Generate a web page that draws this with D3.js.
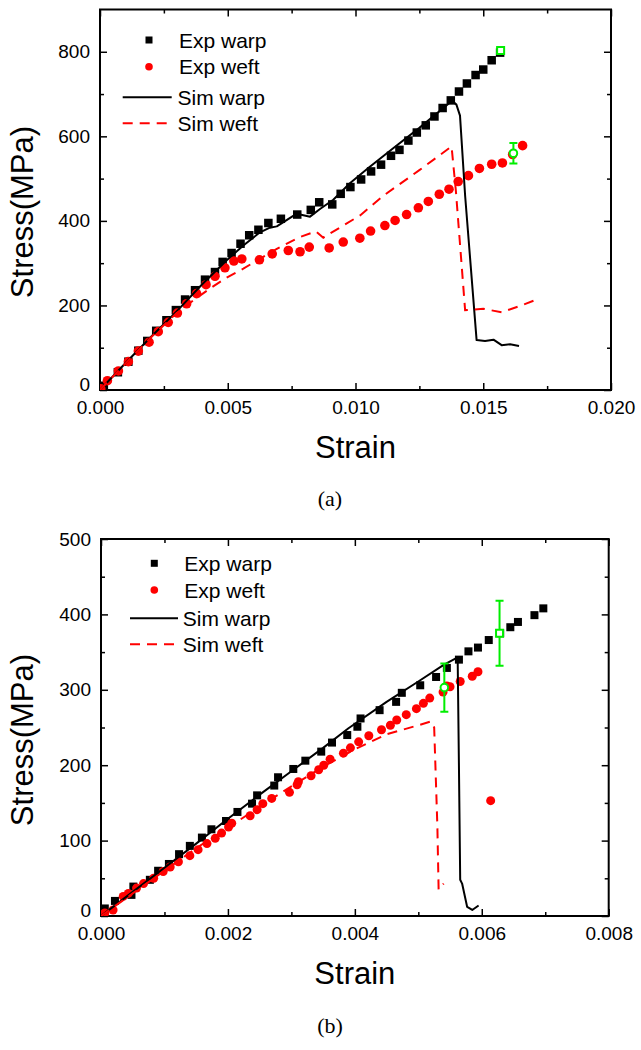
<!DOCTYPE html>
<html><head><meta charset="utf-8">
<script src="https://cdn.jsdelivr.net/npm/d3@7"></script>
<style>body{margin:0;background:#fff}svg{display:block}</style>
</head><body>
<script>
// ---------- DATA ----------
const legendLabels = ["Exp warp", "Exp weft", "Sim warp", "Sim weft"];

// Chart (a)
const aExpWarp = [[0.00015,10],[0.0007,42],[0.00111,67],[0.0015,93],[0.00185,116],[0.0022,140],[0.0026,165],[0.00297,189],[0.00333,214],[0.00372,236],[0.00411,261],[0.0045,279],[0.0048,303],[0.00515,324],[0.0055,346],[0.00584,366],[0.0062,379],[0.00659,395],[0.00708,405],[0.00772,415],[0.00825,426],[0.00858,444],[0.00909,439],[0.00942,464],[0.0098,480],[0.01022,498],[0.01061,517],[0.011,533],[0.01139,554],[0.01172,568],[0.01207,590],[0.0124,609],[0.01275,626],[0.01309,647],[0.01341,667],[0.01373,685],[0.01405,706],[0.01436,725],[0.0147,745],[0.015,758],[0.01533,780],[0.01566,798]];
const aExpWeft = [[0.00003,3],[0.00029,22],[0.00072,45],[0.00111,67],[0.0015,92],[0.00192,113],[0.00228,138],[0.00267,160],[0.00303,182],[0.00339,204],[0.00378,228],[0.00415,249],[0.0045,269],[0.00489,289],[0.00524,305],[0.00555,310],[0.00624,308],[0.00674,322],[0.00737,330],[0.00783,327],[0.00819,338],[0.00897,336],[0.00952,350],[0.01017,359],[0.01059,376],[0.01115,389],[0.01155,401],[0.012,415],[0.01246,431],[0.01285,446],[0.01328,463],[0.01366,475],[0.01402,493],[0.01442,507],[0.01485,524],[0.01533,534],[0.01575,537],[0.01615,557],[0.01654,578]];
const aSimWarp = [[0,0],[0.001,64],[0.002,126],[0.003,186],[0.004,250],[0.00496,307],[0.00561,342],[0.00626,373],[0.00665,384],[0.00692,387],[0.0077,417],[0.00822,410],[0.00861,428],[0.00913,450],[0.00978,489],[0.0105,525],[0.0115,573],[0.0125,620],[0.01378,684],[0.01395,675],[0.01409,649],[0.01429,460],[0.01474,118],[0.01507,116],[0.0154,119],[0.01572,106],[0.01605,108],[0.0164,104]];
const aSimWeft = [[0,0],[0.001,63],[0.002,125],[0.003,182],[0.00365,212],[0.0043,240],[0.00496,266],[0.00561,287],[0.0063,312],[0.00692,334],[0.00783,362],[0.00845,375],[0.00874,360],[0.009,370],[0.01018,413],[0.0111,460],[0.0125,520],[0.01376,576],[0.01393,470],[0.01429,189],[0.015,192],[0.01572,184],[0.0164,198],[0.01709,214]];
const aErrSquare = [[0.01568,803,6]];
const aErrCircle = [[0.01618,560,24]];

// Chart (b)
const bExpWarp = [[0.00006,10],[0.00022,20],[0.00048,28],[0.00051,39],[0.00077,48],[0.0009,60],[0.00107,69],[0.00123,82],[0.0014,93],[0.00159,104],[0.00174,115],[0.00197,126],[0.00215,138],[0.00238,149],[0.00246,160],[0.00273,173],[0.00279,184],[0.00303,195],[0.00322,206],[0.00347,218],[0.00364,230],[0.00388,240],[0.00404,251],[0.00409,262],[0.00439,273],[0.00465,284],[0.00474,296],[0.00503,306],[0.00528,317],[0.00545,329],[0.00564,340],[0.00579,351],[0.00594,356],[0.00611,366],[0.00629,375],[0.00645,383],[0.00657,390],[0.00683,399],[0.00697,408]];
const bExpWeft = [[0.00006,4],[0.00019,8],[0.00035,26],[0.00043,30],[0.00056,37],[0.00067,43],[0.00083,50],[0.00098,59],[0.00109,65],[0.00122,72],[0.0014,80],[0.00153,88],[0.00167,96],[0.0018,103],[0.0019,110],[0.00201,118],[0.00206,123],[0.00235,133],[0.00246,141],[0.00255,149],[0.00269,156],[0.00297,164],[0.00309,174],[0.00311,178],[0.00331,186],[0.00343,194],[0.00351,200],[0.00361,208],[0.00382,216],[0.00393,223],[0.00406,231],[0.00422,239],[0.00442,247],[0.00456,253],[0.00466,260],[0.00481,267],[0.00497,275],[0.00508,282],[0.00518,289],[0.00539,297],[0.00545,305],[0.0055,304],[0.00566,311],[0.00585,318],[0.00594,324],[0.00614,153]];
const bSimWarp = [[0,0],[0.0005,32],[0.001,64],[0.0015,96],[0.002,129],[0.0025,161],[0.003,192],[0.0035,223],[0.0039,249],[0.0045,284],[0.005,311],[0.0054,333],[0.00562,343],[0.00564,200],[0.00566,48],[0.00569,43],[0.00577,12],[0.00585,8],[0.00595,14]];
const bSimWeft = [[0,0],[0.0005,30],[0.001,60],[0.0015,90],[0.002,117],[0.0025,145],[0.003,172],[0.0035,198],[0.004,221],[0.0045,241],[0.005,253],[0.0052,258],[0.00525,250],[0.0053,120],[0.00532,35],[0.0054,43]];
const bErrSquare = [[0.00628,375,43]];
const bErrCircle = [[0.00541,303,32]];

// Ticks
const aXMajor = [0,0.005,0.01,0.015,0.02], aXMinor = [0.0025,0.0075,0.0125,0.0175];
const aYMajor = [0,200,400,600,800], aYMinor = [100,300,500,700];
const bXMajor = [0,0.002,0.004,0.006,0.008], bXMinor = [0.001,0.003,0.005,0.007];
const bYMajor = [0,100,200,300,400,500], bYMinor = [50,150,250,350,450];

// ---------- DRAW ----------
const svg = d3.select("body").append("svg").attr("width",641).attr("height",1050);
const FONT = "'Liberation Sans', Arial, sans-serif";
const RED = "#ff0000", GREEN = "#00ee00";

function drawChart(o){
  const x = d3.scaleLinear().domain(o.xDom).range([o.left,o.right]);
  const y = d3.scaleLinear().domain(o.yDom).range([o.bottom,o.top]);
  const g = svg.append("g");

  function addAxis(axisFn, scale, transform, major, minor, fmt, pad){
    const gMaj = g.append("g").attr("transform",transform).call(axisFn(scale).tickValues(major).tickSizeInner(-7).tickSizeOuter(0).tickPadding(pad).tickFormat(fmt||(()=>"")));
    const gMin = g.append("g").attr("transform",transform).call(axisFn(scale).tickValues(minor).tickSizeInner(-4).tickSizeOuter(0).tickFormat(()=>""));
    [gMaj,gMin].forEach(a=>{a.select(".domain").remove(); a.selectAll("line").attr("stroke","#000").attr("stroke-width",1.5);
      a.selectAll("text").attr("font-family",FONT).attr("font-size",19).attr("fill","#000");});
    return gMaj;
  }
  addAxis(d3.axisBottom, x, `translate(0,${o.bottom})`, o.xMajor, o.xMinor, d3.format(".3f"), 11);
  addAxis(d3.axisTop, x, `translate(0,${o.top})`, o.xMajor, o.xMinor, null, 0);
  const yAx = addAxis(d3.axisLeft, y, `translate(${o.left},0)`, o.yMajor, o.yMinor, d3.format("d"), 10);
  yAx.selectAll(".tick text").filter(d=>d===0).attr("dy","0.05em");
  addAxis(d3.axisRight, y, `translate(${o.right},0)`, o.yMajor, o.yMinor, null, 0);

  g.append("rect").attr("x",o.left).attr("y",o.top).attr("width",o.right-o.left).attr("height",o.bottom-o.top)
    .attr("fill","none").attr("stroke","#000").attr("stroke-width",2);

  const clipId = "clip"+o.id;
  svg.append("clipPath").attr("id",clipId).append("rect").attr("x",o.left).attr("y",o.top-5).attr("width",o.right-o.left).attr("height",o.bottom-o.top+5);
  const p = g.append("g").attr("clip-path",`url(#${clipId})`);

  const s = o.sq;
  p.selectAll(".sq").data(o.expWarp).join("rect").attr("x",d=>x(d[0])-s/2).attr("y",d=>y(d[1])-s/2).attr("width",s).attr("height",s).attr("fill","#000");
  p.selectAll(".ci").data(o.expWeft).join("circle").attr("cx",d=>x(d[0])).attr("cy",d=>y(d[1])).attr("r",o.r).attr("fill",RED);

  const line = d3.line().x(d=>x(d[0])).y(d=>y(d[1]));
  p.append("path").datum(o.simWarp).attr("d",line).attr("fill","none").attr("stroke","#000").attr("stroke-width",2).attr("stroke-linejoin","round");
  p.append("path").datum(o.simWeft).attr("d",line).attr("fill","none").attr("stroke",RED).attr("stroke-width",2).attr("stroke-dasharray","10,7");

  const eb = (d) => {
    const cx=x(d[0]);
    p.append("line").attr("x1",cx).attr("x2",cx).attr("y1",y(d[1]-d[2])).attr("y2",y(d[1]+d[2])).attr("stroke",GREEN).attr("stroke-width",2);
    [d[1]-d[2],d[1]+d[2]].forEach(v=>p.append("line").attr("x1",cx-4).attr("x2",cx+4).attr("y1",y(v)).attr("y2",y(v)).attr("stroke",GREEN).attr("stroke-width",2));
  };
  o.errSq.forEach(d=>{eb(d); p.append("rect").attr("x",x(d[0])-3.5).attr("y",y(d[1])-3.5).attr("width",7).attr("height",7).attr("fill","#fff").attr("stroke",GREEN).attr("stroke-width",2);});
  o.errCi.forEach(d=>{eb(d); p.append("circle").attr("cx",x(d[0])).attr("cy",y(d[1])).attr("r",3.8).attr("fill","#fff").attr("stroke",GREEN).attr("stroke-width",2);});

  const L = o.legend;
  const lg = g.append("g").attr("font-family",FONT).attr("font-size",21);
  lg.append("rect").attr("x",L.mx-3.5).attr("y",L.rows[0]-3.5).attr("width",7).attr("height",7).attr("fill","#000");
  lg.append("circle").attr("cx",L.mx).attr("cy",L.rows[1]).attr("r",3.8).attr("fill",RED);
  lg.append("line").attr("x1",L.l1).attr("x2",L.l2).attr("y1",L.rows[2]).attr("y2",L.rows[2]).attr("stroke","#000").attr("stroke-width",2);
  lg.append("line").attr("x1",L.l1).attr("x2",L.l2-4).attr("y1",L.rows[3]).attr("y2",L.rows[3]).attr("stroke",RED).attr("stroke-width",2).attr("stroke-dasharray","10,7");
  legendLabels.forEach((t,i)=>lg.append("text").attr("x",i<2?L.tx:L.tx-1.5).attr("y",L.rows[i]).attr("dy","0.36em").text(t));

  g.append("text").attr("x",(o.left+o.right)/2).attr("y",o.bottom+68).attr("text-anchor","middle")
    .attr("font-family",FONT).attr("font-size",31).text("Strain");
  g.append("text").attr("transform",`translate(${o.ylabX},${o.ylabY}) rotate(-90)`).attr("text-anchor","middle")
    .attr("font-family",FONT).attr("font-size",31).text("Stress(MPa)");
  g.append("text").attr("x",o.capX).attr("y",o.capY).attr("text-anchor","middle")
    .attr("font-family","'Liberation Serif', 'Times New Roman', serif").attr("font-size",22).text(o.caption);
}

drawChart({id:"a", left:100, right:611, top:9.5, bottom:390, xDom:[0,0.02], yDom:[0,900],
  xMajor:aXMajor, xMinor:aXMinor, yMajor:aYMajor, yMinor:aYMinor,
  expWarp:aExpWarp, expWeft:aExpWeft, simWarp:aSimWarp, simWeft:aSimWeft, errSq:aErrSquare, errCi:aErrCircle,
  sq:8.5, r:4.8,
  legend:{mx:149, rows:[40,66.7,97.3,123.3], l1:122.7, l2:171.7, tx:179},
  ylabX:33, ylabY:212, capX:330, capY:506, caption:"(a)"});

drawChart({id:"b", left:101, right:608.7, top:539, bottom:916, xDom:[0,0.008], yDom:[0,500],
  xMajor:bXMajor, xMinor:bXMinor, yMajor:bYMajor, yMinor:bYMinor,
  expWarp:bExpWarp, expWeft:bExpWeft, simWarp:bSimWarp, simWeft:bSimWeft, errSq:bErrSquare, errCi:bErrCircle,
  sq:8, r:4.5,
  legend:{mx:154.3, rows:[563.3,590,618.3,644.3], l1:130, l2:178, tx:184.3},
  ylabX:33, ylabY:740, capX:330, capY:1033, caption:"(b)"});
</script>
</body></html>
